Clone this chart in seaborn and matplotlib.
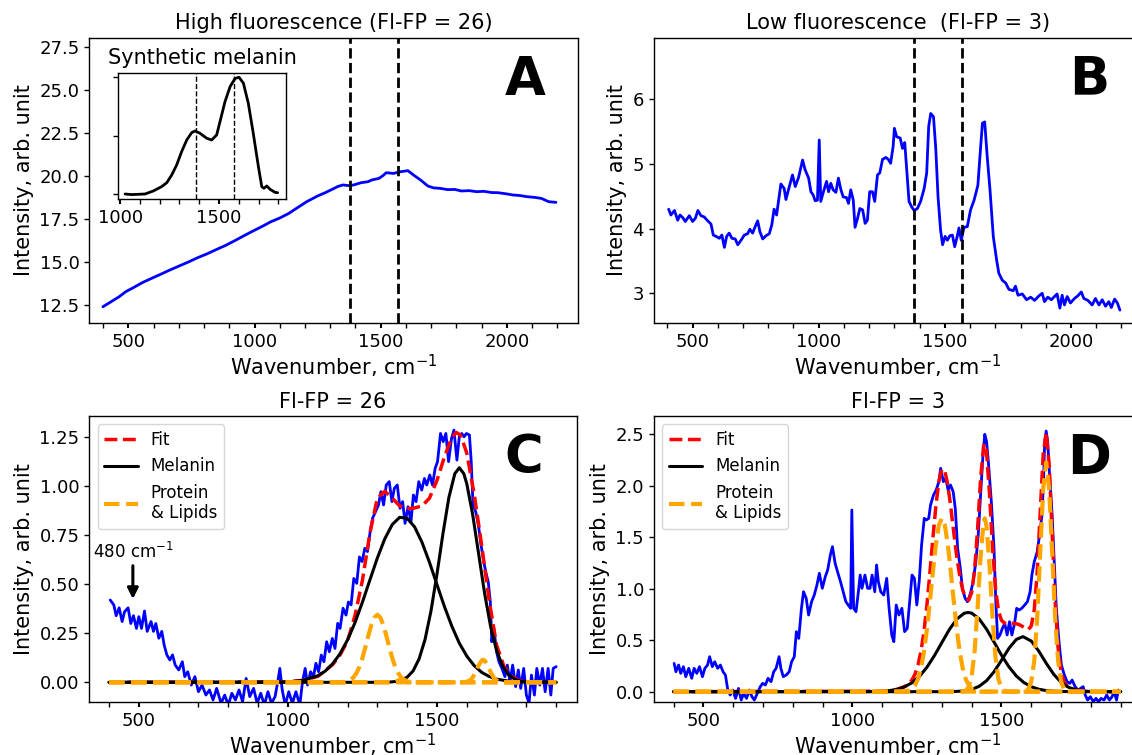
import matplotlib
matplotlib.use("Agg")
import matplotlib.pyplot as plt
from matplotlib.ticker import MultipleLocator, NullFormatter
import seaborn as sns

# ---------------- Panel A: high fluorescence spectrum ----------------
a_wn = [399, 430, 463, 490, 521, 555, 592, 630, 664, 700,
        735, 778, 810, 850, 885, 921, 955, 993, 1030, 1064,
        1100, 1136, 1170, 1207, 1250, 1280, 1307, 1330, 1350, 1375,
        1393, 1422, 1450, 1465, 1493, 1510, 1522, 1551, 1579, 1608,
        1630, 1658, 1687, 1710, 1737, 1765, 1794, 1820, 1851, 1880,
        1909, 1940, 1966, 2000, 2023, 2050, 2080, 2110, 2137, 2166,
        2195]
a_int = [12.40, 12.68, 12.98, 13.28, 13.52, 13.80, 14.05, 14.30, 14.53, 14.76,
         14.98, 15.27, 15.46, 15.73, 15.96, 16.23, 16.50, 16.79, 17.06, 17.33,
         17.55, 17.82, 18.15, 18.50, 18.83, 19.02, 19.21, 19.38, 19.47, 19.43,
         19.47, 19.60, 19.66, 19.76, 19.85, 20.02, 20.18, 20.14, 20.24, 20.30,
         20.05, 19.76, 19.41, 19.30, 19.27, 19.20, 19.21, 19.12, 19.14, 19.08,
         19.10, 19.03, 19.02, 18.95, 18.89, 18.86, 18.79, 18.75, 18.69, 18.50,
         18.46]

# inset: synthetic melanin (normalised)
syn_wn = [1025, 1059, 1126, 1168, 1210, 1236, 1261, 1286, 1311, 1337,
          1362, 1379, 1404, 1438, 1463, 1488, 1505, 1530, 1556, 1581,
          1601, 1623, 1648, 1673, 1699, 1716, 1727, 1741, 1758, 1783,
          1796]
syn_int = [0.0, -0.005, 0.0, 0.026, 0.063, 0.097, 0.163, 0.249, 0.363, 0.463,
           0.526, 0.54, 0.52, 0.477, 0.463, 0.506, 0.62, 0.79, 0.92, 0.99,
           1.0, 0.95, 0.777, 0.52, 0.234, 0.063, 0.049, 0.069, 0.04, 0.014,
           0.011]

# ---------------- Panel B: low fluorescence spectrum ----------------
b_wn = [405, 414, 428, 441, 450, 461, 471, 487, 500, 511,
        521, 533, 546, 560, 573, 582, 593, 606, 616, 626,
        635, 645, 656, 669, 679, 692, 705, 718, 727, 738,
        748, 758, 767, 778, 791, 804, 814, 823, 833, 841,
        850, 863, 870, 880, 896, 907, 920, 936, 946, 960,
        969, 978, 986, 995, 1002, 1008, 1021, 1031, 1039, 1048,
        1057, 1068, 1078, 1088, 1097, 1110, 1118, 1127, 1137, 1144,
        1154, 1163, 1174, 1184, 1193, 1202, 1213, 1222, 1233, 1242,
        1253, 1266, 1276, 1285, 1295, 1300, 1309, 1323, 1332, 1341,
        1349, 1358, 1368, 1378, 1391, 1404, 1418, 1428, 1436, 1444,
        1455, 1464, 1473, 1483, 1491, 1501, 1510, 1520, 1530, 1539,
        1549, 1556, 1565, 1576, 1589, 1602, 1616, 1631, 1639, 1649,
        1658, 1668, 1679, 1692, 1705, 1714, 1728, 1741, 1754, 1771,
        1780, 1790, 1807, 1824, 1840, 1856, 1873, 1886, 1895, 1908,
        1922, 1935, 1945, 1956, 1965, 1974, 1985, 1998, 2014, 2027,
        2041, 2051, 2067, 2084, 2097, 2111, 2124, 2137, 2150, 2160,
        2173, 2184, 2194]
b_int = [4.30, 4.21, 4.28, 4.13, 4.21, 4.17, 4.11, 4.20, 4.11, 4.16,
         4.28, 4.20, 4.18, 4.12, 4.07, 3.90, 3.88, 3.85, 3.90, 3.71,
         3.88, 3.93, 3.85, 3.84, 3.75, 3.82, 3.90, 3.92, 3.99, 3.93,
         4.03, 4.12, 3.95, 3.84, 3.89, 3.92, 4.06, 4.30, 4.21, 4.44,
         4.69, 4.62, 4.45, 4.60, 4.83, 4.65, 4.79, 5.06, 4.91, 4.78,
         4.57, 4.52, 4.43, 4.44, 5.37, 4.42, 4.60, 4.73, 4.57, 4.70,
         4.60, 4.56, 4.78, 4.60, 4.49, 4.48, 4.39, 4.60, 4.44, 4.02,
         4.16, 4.31, 4.29, 4.08, 4.13, 4.57, 4.57, 4.42, 4.83, 4.86,
         5.07, 5.10, 5.07, 5.01, 5.27, 5.55, 5.42, 5.40, 5.24, 5.33,
         4.91, 4.42, 4.34, 4.28, 4.31, 4.42, 4.62, 4.86, 5.58, 5.78,
         5.73, 5.24, 4.49, 3.98, 3.75, 3.88, 3.82, 3.89, 3.90, 3.72,
         3.88, 4.01, 3.82, 4.02, 4.03, 4.29, 4.44, 4.67, 5.11, 5.63,
         5.65, 5.11, 4.60, 3.88, 3.52, 3.31, 3.20, 3.16, 3.06, 3.04,
         3.11, 2.97, 2.99, 2.90, 2.94, 2.89, 2.96, 3.00, 2.87, 2.94,
         2.90, 2.95, 2.99, 2.77, 2.97, 2.82, 2.95, 2.85, 2.92, 2.96,
         3.02, 2.92, 2.89, 2.82, 2.92, 2.82, 2.90, 2.80, 2.87, 2.78,
         2.91, 2.85, 2.74]

melanin_bands = [1378, 1568]
inset_bands = [1382, 1578]

# ---------------- Panel C: Fl-FP = 26 decomposition ----------------
c_wn = [404, 416, 424, 434, 444, 452, 464, 473, 482, 492,
        500, 509, 519, 528, 541, 549, 557, 567, 577, 585,
        594, 604, 613, 622, 634, 646, 654, 664, 676, 688,
        700, 712, 725, 737, 749, 761, 776, 788, 800, 812,
        824, 836, 848, 860, 872, 885, 897, 909, 921, 933,
        945, 957, 967, 973, 981, 991, 1003, 1015, 1027, 1040,
        1049, 1058, 1066, 1076, 1086, 1094, 1103, 1112, 1121, 1130,
        1139, 1149, 1158, 1167, 1175, 1185, 1195, 1203, 1212, 1221,
        1231, 1240, 1249, 1258, 1267, 1276, 1284, 1294, 1304, 1312,
        1321, 1330, 1340, 1349, 1357, 1367, 1376, 1385, 1393, 1403,
        1413, 1421, 1430, 1439, 1449, 1458, 1466, 1476, 1485, 1494,
        1502, 1512, 1521, 1530, 1539, 1549, 1557, 1567, 1575, 1583,
        1591, 1599, 1609, 1615, 1621, 1630, 1639, 1648, 1657, 1666,
        1672, 1679, 1684, 1691, 1700, 1708, 1718, 1728, 1736, 1745,
        1754, 1764, 1773, 1781, 1791, 1800, 1809, 1817, 1827, 1835,
        1845, 1854, 1863, 1873, 1882, 1890, 1900]
c_int = [0.42, 0.395, 0.34, 0.38, 0.31, 0.36, 0.38, 0.30, 0.34, 0.275,
         0.335, 0.275, 0.364, 0.26, 0.31, 0.26, 0.30, 0.225, 0.26, 0.19,
         0.14, 0.114, 0.14, 0.088, 0.063, 0.105, 0.029, 0.054, -0.014, 0.029,
         -0.048, -0.014, -0.065, -0.039, -0.09, -0.031, -0.107, -0.065, -0.116, -0.056,
         -0.09, -0.039, -0.099, 0.02, -0.073, -0.031, -0.107, -0.056, -0.116, -0.048,
         -0.107, -0.073, 0.012, 0.071, -0.039, -0.116, -0.048, -0.107, -0.048, -0.116,
         0.003, 0.071, -0.014, 0.054, 0.029, 0.097, 0.054, 0.139, 0.105, 0.207,
         0.156, 0.224, 0.173, 0.301, 0.275, 0.378, 0.343, 0.41, 0.395, 0.53,
         0.505, 0.64, 0.616, 0.684, 0.667, 0.769, 0.837, 0.871, 0.905, 0.973,
         0.905, 1.007, 1.024, 0.922, 0.99, 1.007, 0.888, 0.922, 0.811, 0.896,
         0.82, 0.956, 0.922, 1.024, 0.981, 1.04, 1.007, 1.058, 1.007, 1.092,
         1.126, 1.27, 1.228, 1.27, 1.126, 1.245, 1.287, 1.134, 1.253, 1.27,
         1.253, 1.27, 1.262, 1.126, 0.905, 0.871, 0.803, 0.70, 0.616, 0.548,
         0.514, 0.412, 0.207, 0.276, 0.156, 0.105, 0.071, 0.029, 0.088, 0.003,
         0.088, -0.022, 0.063, -0.031, 0.071, -0.065, -0.107, 0.037, -0.065, 0.071,
         -0.014, 0.071, -0.048, 0.071, -0.065, 0.071, 0.08]

c_fit_wn = [400, 1000, 1050, 1100, 1125, 1150, 1175, 1200, 1225, 1250,
            1275, 1300, 1325, 1350, 1375, 1400, 1425, 1450, 1475, 1500,
            1525, 1550, 1565, 1580, 1600, 1625, 1650, 1675, 1700, 1725,
            1750, 1775, 1800, 1900]
c_fit = [0, 0.002, 0.01, 0.03, 0.06, 0.09, 0.14, 0.21, 0.34, 0.52,
         0.76, 0.94, 0.975, 0.94, 0.90, 0.885, 0.89, 0.90, 0.94, 1.03,
         1.15, 1.25, 1.275, 1.26, 1.17, 0.96, 0.70, 0.42, 0.19, 0.08,
         0.03, 0.01, 0.003, 0]

c_mel1_wn = [400, 1000, 1050, 1100, 1125, 1150, 1175, 1200, 1225, 1250,
             1275, 1300, 1325, 1350, 1375, 1400, 1425, 1450, 1475, 1500,
             1525, 1550, 1575, 1600, 1625, 1650, 1675, 1700, 1750, 1800, 1900]
c_mel1 = [0, 0.002, 0.010, 0.033, 0.057, 0.094, 0.146, 0.216, 0.304, 0.409,
          0.522, 0.634, 0.732, 0.805, 0.842, 0.837, 0.793, 0.714, 0.612, 0.499,
          0.387, 0.286, 0.200, 0.134, 0.085, 0.051, 0.030, 0.016, 0.004, 0.001, 0]

c_mel2_wn = [400, 1320, 1340, 1360, 1380, 1400, 1420, 1440, 1460, 1480,
             1500, 1520, 1540, 1560, 1575, 1590, 1600, 1620, 1640, 1660,
             1680, 1700, 1720, 1740, 1760, 1780, 1800, 1900]
c_mel2 = [0, 0, 0.001, 0.004, 0.011, 0.026, 0.058, 0.119, 0.218, 0.364,
          0.551, 0.757, 0.943, 1.065, 1.095, 1.065, 1.014, 0.855, 0.654, 0.453,
          0.285, 0.163, 0.084, 0.039, 0.017, 0.006, 0.002, 0]

c_prot1_wn = [400, 1190, 1200, 1210, 1220, 1230, 1240, 1250, 1260, 1270,
              1280, 1290, 1300, 1310, 1320, 1330, 1340, 1350, 1360, 1370,
              1380, 1390, 1400, 1410, 1900]
c_prot1 = [0, 0, 0.006, 0.013, 0.025, 0.047, 0.079, 0.124, 0.180, 0.239,
           0.293, 0.331, 0.345, 0.331, 0.293, 0.239, 0.180, 0.124, 0.079, 0.047,
           0.025, 0.013, 0.006, 0, 0]

c_prot2_wn = [400, 1360, 1372, 1380, 1388, 1400, 1900]
c_prot2 = [0, 0, 0.01, 0.02, 0.01, 0, 0]

c_prot3_wn = [400, 1590, 1600, 1610, 1620, 1630, 1640, 1650, 1655, 1660,
              1670, 1680, 1690, 1700, 1710, 1720, 1900]
c_prot3 = [0, 0, 0.003, 0.009, 0.025, 0.053, 0.087, 0.111, 0.115, 0.111,
           0.087, 0.053, 0.025, 0.009, 0.003, 0, 0]

# ---------------- Panel D: Fl-FP = 3 decomposition ----------------
d_wn = [402, 408, 417, 424, 433, 441, 451, 461, 469, 478,
        487, 497, 505, 514, 521, 530, 538, 548, 557, 566,
        574, 582, 590, 599, 608, 618, 627, 635, 645, 654,
        663, 671, 681, 691, 699, 708, 717, 727, 736, 744,
        754, 760, 768, 778, 788, 796, 805, 812, 820, 829,
        836, 845, 853, 863, 872, 881, 889, 899, 909, 917,
        926, 933, 942, 950, 960, 969, 978, 986, 994, 998,
        1004, 1012, 1020, 1026, 1032, 1042, 1051, 1059, 1066, 1075,
        1081, 1087, 1095, 1105, 1115, 1123, 1132, 1139, 1147, 1156,
        1166, 1175, 1184, 1192, 1200, 1208, 1216, 1224, 1232, 1241,
        1248, 1256, 1262, 1272, 1281, 1290, 1296, 1305, 1313, 1321,
        1329, 1338, 1345, 1353, 1362, 1369, 1378, 1386, 1396, 1405,
        1414, 1422, 1430, 1438, 1444, 1450, 1456, 1466, 1475, 1481,
        1487, 1495, 1503, 1511, 1519, 1527, 1535, 1544, 1551, 1559,
        1568, 1578, 1587, 1596, 1602, 1610, 1620, 1629, 1636, 1641,
        1645, 1650, 1655, 1662, 1670, 1677, 1684, 1693, 1701, 1711,
        1720, 1729, 1737, 1747, 1757, 1765, 1774, 1781, 1789, 1798,
        1808, 1817, 1826, 1834, 1844, 1853, 1862, 1871, 1878, 1886,
        1892]
d_int = [0.275, 0.194, 0.259, 0.178, 0.243, 0.146, 0.227, 0.13, 0.227, 0.178,
         0.243, 0.146, 0.227, 0.259, 0.34, 0.243, 0.291, 0.227, 0.259, 0.194,
         0.162, 0.016, -0.032, 0.016, -0.065, 0.032, -0.081, -0.016, -0.065, 0.016,
         -0.049, -0.081, -0.016, 0.049, 0.081, 0.065, 0.13, 0.097, 0.194, 0.227,
         0.34, 0.227, 0.146, 0.162, 0.194, 0.291, 0.34, 0.583, 0.518, 0.81,
         0.971, 0.907, 0.745, 0.874, 0.939, 1.036, 1.15, 1.004, 1.117, 1.182,
         1.328, 1.409, 1.247, 1.166, 1.069, 0.971, 0.874, 0.842, 0.81, 1.765,
         0.81, 0.777, 0.971, 1.133, 1.004, 1.133, 1.004, 1.004, 1.133, 0.971,
         1.231, 1.069, 0.971, 0.939, 1.101, 0.81, 0.551, 0.486, 0.842, 0.745,
         0.81, 0.583, 0.615, 0.874, 1.133, 1.101, 0.842, 1.069, 1.425, 1.684,
         1.668, 1.684, 1.813, 1.91, 1.959, 2.04, 2.17, 2.04, 2.073, 1.959,
         2.008, 1.943, 1.781, 1.392, 1.198, 1.004, 0.907, 0.874, 0.955, 1.069,
         1.263, 1.522, 1.91, 2.30, 2.50, 2.43, 2.234, 1.846, 1.392, 0.874,
         0.518, 0.551, 0.615, 0.664, 0.551, 0.68, 0.551, 0.664, 0.81, 0.793,
         0.81, 0.842, 0.874, 0.971, 1.133, 1.263, 1.36, 1.554, 1.716, 2.04,
         2.429, 2.532, 2.429, 2.073, 1.716, 1.263, 0.81, 0.486, 0.259, 0.162,
         0.097, 0.081, 0.113, 0.049, 0.016, 0.032, 0.049, -0.032, -0.081, -0.049,
         -0.097, -0.065, -0.097, -0.065, -0.081, -0.032, -0.081, -0.049, 0.0, -0.081,
         0.016]

d_fit_wn = [400, 1100, 1125, 1150, 1175, 1190, 1200, 1210, 1220, 1230,
            1240, 1250, 1260, 1270, 1280, 1290, 1300, 1310, 1320, 1330,
            1340, 1350, 1360, 1370, 1380, 1390, 1400, 1410, 1420, 1430,
            1440, 1444, 1450, 1460, 1470, 1480, 1490, 1500, 1510, 1520,
            1530, 1540, 1550, 1560, 1570, 1580, 1590, 1600, 1610, 1620,
            1630, 1640, 1650, 1660, 1670, 1680, 1690, 1700, 1710, 1720,
            1740, 1760, 1800, 1850, 1900]
d_fit = [0, 0.005, 0.011, 0.023, 0.05, 0.08, 0.115, 0.171, 0.259, 0.393,
         0.586, 0.845, 1.157, 1.493, 1.805, 2.043, 2.161, 2.146, 2.009, 1.793,
         1.545, 1.312, 1.126, 0.989, 0.911, 0.889, 0.963, 1.187, 1.587, 2.068,
         2.383, 2.41, 2.324, 1.92, 1.405, 1.004, 0.784, 0.693, 0.667, 0.661,
         0.664, 0.664, 0.66, 0.651, 0.635, 0.615, 0.604, 0.638, 0.796, 1.168,
         1.744, 2.306, 2.516, 2.206, 1.546, 0.879, 0.423, 0.191, 0.093, 0.055,
         0.025, 0.012, 0.002, 0, 0]

d_mel1_wn = [400, 1050, 1075, 1100, 1125, 1150, 1175, 1200, 1225, 1250,
             1275, 1300, 1325, 1350, 1375, 1388, 1400, 1425, 1450, 1475,
             1500, 1525, 1550, 1575, 1600, 1625, 1650, 1675, 1700, 1750, 1900]
d_mel1 = [0, 0.001, 0.002, 0.005, 0.011, 0.023, 0.047, 0.087, 0.149, 0.238,
          0.350, 0.477, 0.603, 0.705, 0.762, 0.770, 0.763, 0.708, 0.607, 0.483,
          0.355, 0.242, 0.152, 0.089, 0.048, 0.024, 0.011, 0.005, 0.002, 0, 0]

d_mel2_wn = [400, 1300, 1325, 1350, 1375, 1400, 1425, 1450, 1475, 1500,
             1525, 1550, 1572, 1600, 1625, 1650, 1675, 1700, 1725, 1750,
             1775, 1800, 1850, 1900]
d_mel2 = [0, 0, 0.001, 0.003, 0.008, 0.022, 0.052, 0.107, 0.193, 0.305,
          0.421, 0.508, 0.535, 0.492, 0.395, 0.277, 0.170, 0.091, 0.043, 0.017,
          0.006, 0.002, 0, 0]

d_prot1_wn = [400, 1170, 1180, 1190, 1200, 1210, 1220, 1230, 1240, 1250,
              1260, 1270, 1280, 1290, 1300, 1310, 1320, 1330, 1340, 1350,
              1360, 1370, 1380, 1390, 1400, 1410, 1420, 1430, 1900]
d_prot1 = [0, 0, 0.005, 0.012, 0.028, 0.062, 0.124, 0.228, 0.387, 0.607,
           0.877, 1.167, 1.430, 1.617, 1.684, 1.617, 1.430, 1.167, 0.877, 0.607,
           0.387, 0.228, 0.124, 0.062, 0.028, 0.012, 0.005, 0, 0]

d_prot2_wn = [400, 1370, 1380, 1390, 1400, 1410, 1420, 1430, 1440, 1444,
              1450, 1460, 1470, 1480, 1490, 1500, 1510, 1520, 1900]
d_prot2 = [0, 0.001, 0.010, 0.044, 0.150, 0.397, 0.820, 1.318, 1.651, 1.684,
           1.610, 1.223, 0.723, 0.333, 0.120, 0.033, 0.007, 0.001, 0]

d_prot3_wn = [400, 1570, 1580, 1590, 1600, 1610, 1620, 1630, 1640, 1650,
              1660, 1670, 1680, 1690, 1700, 1710, 1720, 1730, 1900]
d_prot3 = [0, 0.001, 0.005, 0.025, 0.098, 0.301, 0.723, 1.351, 1.966, 2.228,
           1.966, 1.351, 0.723, 0.301, 0.098, 0.025, 0.005, 0.001, 0]

# ---------------- styling ----------------
sns.set_style("ticks")
plt.rcParams.update({
    "font.family": ["DejaVu Sans"],
    "axes.edgecolor": "black",
    "axes.linewidth": 1.0,
    "xtick.color": "black", "ytick.color": "black",
    "text.color": "black", "axes.labelcolor": "black",
    "xtick.labelsize": 13, "ytick.labelsize": 13,
    "axes.labelsize": 15, "axes.titlesize": 15,
    "xtick.direction": "out", "ytick.direction": "out",
    "xtick.major.size": 3.5, "ytick.major.size": 3.5,
    "xtick.minor.size": 3.5, "ytick.minor.size": 3.5,
    "xtick.major.width": 1.5, "ytick.major.width": 1.0,
    "xtick.minor.width": 1.0,
    "legend.fontsize": 12,
})


def line(ax, x, y, **kw):
    sns.lineplot(x=x, y=y, ax=ax, sort=False, errorbar=None, **kw)


def xfmt(ax, xlim):
    ax.set_xlim(*xlim)
    ax.xaxis.set_major_locator(MultipleLocator(500))
    ax.xaxis.set_minor_locator(MultipleLocator(100))
    ax.set_xlabel("Wavenumber, cm$^{-1}$", labelpad=1.2)
    ax.set_ylabel("Intensity, arb. unit")


fig = plt.figure(figsize=(11.32, 7.55), dpi=100)
axA = fig.add_axes([0.0789, 0.5718, 0.4314, 0.3783])
axB = fig.add_axes([0.5773, 0.5718, 0.4314, 0.3783])
axC = fig.add_axes([0.0788, 0.0698, 0.4307, 0.3792])
axD = fig.add_axes([0.5775, 0.0698, 0.4307, 0.3792])
axI = fig.add_axes([0.1045, 0.7364, 0.1479, 0.1673])

BLUE = "blue"

# Panel A
line(axA, a_wn, a_int, color=BLUE, linewidth=2)
for b in melanin_bands:
    axA.axvline(b, color="black", linestyle="--", linewidth=2)
xfmt(axA, (345, 2281))
axA.set_ylim(11.44, 28.02)
axA.yaxis.set_major_locator(MultipleLocator(2.5))
axA.set_title("High fluorescence (Fl-FP = 26)")
axA.text(0.892, 0.80, "A", transform=axA.transAxes, fontsize=38,
         fontweight="bold", ha="center", va="baseline")

# Inset
line(axI, syn_wn, syn_int, color="black", linewidth=2)
for b in inset_bands:
    axI.axvline(b, color="black", linestyle="--", linewidth=1)
axI.set_xlim(991, 1837)
axI.set_ylim(-0.043, 1.039)
axI.xaxis.set_major_locator(MultipleLocator(500))
axI.xaxis.set_minor_locator(MultipleLocator(100))
axI.yaxis.set_major_locator(MultipleLocator(0.5))
axI.yaxis.set_major_formatter(NullFormatter())
axI.set_xlabel("")
axI.set_ylabel("")
axI.set_title("Synthetic melanin")

# Panel B
line(axB, b_wn, b_int, color=BLUE, linewidth=2)
for b in melanin_bands:
    axB.axvline(b, color="black", linestyle="--", linewidth=2)
xfmt(axB, (345, 2281))
axB.set_ylim(2.536, 6.952)
axB.yaxis.set_major_locator(MultipleLocator(1))
axB.set_title("Low fluorescence  (Fl-FP = 3)")
axB.text(0.892, 0.80, "B", transform=axB.transAxes, fontsize=38,
         fontweight="bold", ha="center", va="baseline")


def decomposition(ax, wn, inten, fit_wn, fit, mels, prots):
    line(ax, wn, inten, color=BLUE, linewidth=2)
    line(ax, fit_wn, fit, color="red", linestyle="--", linewidth=2.5, label="Fit")
    for i, (mx, my) in enumerate(mels):
        line(ax, mx, my, color="black", linewidth=2.2,
             label="Melanin" if i == 0 else None)
    for i, (px, py) in enumerate(prots):
        line(ax, px, py, color="orange", linestyle="--", linewidth=3,
             label="Protein\n& Lipids" if i == 0 else None)
    ax.legend(loc="upper left", fontsize=12)


# Panel C
decomposition(axC, c_wn, c_int, c_fit_wn, c_fit,
              [(c_mel1_wn, c_mel1), (c_mel2_wn, c_mel2)],
              [(c_prot1_wn, c_prot1), (c_prot2_wn, c_prot2), (c_prot3_wn, c_prot3)])
xfmt(axC, (333.5, 1969))
axC.set_ylim(-0.102, 1.359)
axC.yaxis.set_major_locator(MultipleLocator(0.25))
axC.set_title("Fl-FP = 26")
axC.text(0.892, 0.80, "C", transform=axC.transAxes, fontsize=38,
         fontweight="bold", ha="center", va="baseline")
axC.annotate("", xy=(480, 0.425), xytext=(480, 0.595),
             arrowprops=dict(arrowstyle="-|>", color="black", lw=2.2,
                             mutation_scale=16, shrinkA=0, shrinkB=0))
axC.text(481, 0.667, "480 cm$^{-1}$", ha="center", va="center", fontsize=12)

# Panel D
decomposition(axD, d_wn, d_int, d_fit_wn, d_fit,
              [(d_mel1_wn, d_mel1), (d_mel2_wn, d_mel2)],
              [(d_prot1_wn, d_prot1), (d_prot2_wn, d_prot2), (d_prot3_wn, d_prot3)])
xfmt(axD, (333.5, 1969))
axD.set_ylim(-0.103, 2.678)
axD.yaxis.set_major_locator(MultipleLocator(0.5))
axD.set_title("Fl-FP = 3")
axD.text(0.892, 0.80, "D", transform=axD.transAxes, fontsize=38,
         fontweight="bold", ha="center", va="baseline")

fig.savefig("out.png", dpi=100)
